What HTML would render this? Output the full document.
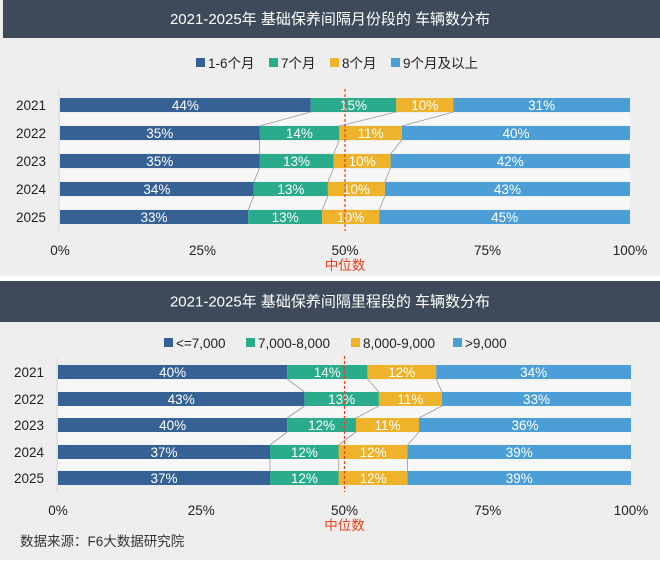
<!DOCTYPE html>
<html><head><meta charset="utf-8"><style>
body{margin:0;width:660px;height:560px;overflow:hidden;background:#fff;font-family:"Liberation Sans","Noto Sans CJK SC",sans-serif;}
</style></head><body>
<svg id="s" width="660" height="560" xmlns="http://www.w3.org/2000/svg" font-family="Liberation Sans, Noto Sans CJK SC, sans-serif"></svg>
<script>
const C=['#356195','#2aab8b','#eeb32b','#4b9fd6'];
let h='';
function panel(o){
  h+=`<rect x="0" y="${o.top}" width="660" height="${o.h}" fill="#eeeeee"/>`;
  h+=`<rect x="${o.hx}" y="${o.top}" width="${660-o.hx}" height="${o.hh}" fill="#3e4a59"/>`;
  h+=`<text x="330" y="${o.top+o.hh/2+5}" fill="#fff" font-size="15" text-anchor="middle">${o.title}</text>`;
  // legend
  let lx=o.lx;
  o.leg.forEach((t,i)=>{h+=`<rect x="${lx[i]}" y="${o.ly-5}" width="9" height="9" fill="${C[i]}"/><text x="${lx[i]+12}" y="${o.ly+5}" font-size="13.5" fill="#222">${t}</text>`;});
  const x0=o.x0,x1=o.x1,W=x1-x0,bh=14;
  // white bands between rows
  for(let r=0;r<o.rows.length-1;r++){const y=(o.ys[r]+o.ys[r+1])/2;h+=`<rect x="${x0}" y="${y-6}" width="${W}" height="12" fill="#f7f7f7"/>`;}
  h+=`<line x1="${x0-1}" y1="${o.ys[0]-14}" x2="${x0-1}" y2="${o.ys[4]+14}" stroke="#d8d8d8"/>`;
  const bounds=[];
  o.rows.forEach((d,r)=>{
    let acc=0;const y=o.ys[r];const b=[];
    h+=`<text x="${x0-14}" y="${y+5}" font-size="13.5" fill="#222" text-anchor="end">${o.years[r]}</text>`;
    d.forEach((v,i)=>{
      const xa=x0+acc/100*W;let w=v/100*W;
      if(i==3) w=x1-xa;
      h+=`<rect x="${xa}" y="${y-bh/2}" width="${w}" height="${bh}" fill="${C[i]}"/>`;
      h+=`<text x="${xa+w/2}" y="${y+5}" font-size="13.5" fill="#fff" text-anchor="middle">${v}%</text>`;
      acc+=v;b.push(x0+acc/100*W);
    });
    bounds.push(b);
  });
  for(let r=0;r<o.rows.length-1;r++)for(let i=0;i<3;i++){
    h+=`<line x1="${bounds[r][i]}" y1="${o.ys[r]+bh/2}" x2="${bounds[r+1][i]}" y2="${o.ys[r+1]-bh/2}" stroke="#999" stroke-width="0.8"/>`;
  }
  const xm=x0+W/2;
  h+=`<line x1="${xm}" y1="${o.ys[0]-16}" x2="${xm}" y2="${o.ys[4]+14}" stroke="#e8401c" stroke-width="1.2" stroke-dasharray="3,2"/>`;
  ['0%','25%','50%','75%','100%'].forEach((t,i)=>{h+=`<text x="${x0+W*i/4}" y="${o.ty}" font-size="13.5" fill="#222" text-anchor="middle">${t}</text>`;});
  h+=`<text x="${xm}" y="${o.ty+15}" font-size="13.5" fill="#e8401c" text-anchor="middle">中位数</text>`;
}
panel({top:0,h:276,hx:3,hh:38,title:'2021-2025年 基础保养间隔月份段的 车辆数分布',
 lx:[196,269,330,391],leg:['1-6个月','7个月','8个月','9个月及以上'],ly:63,
 x0:60,x1:630,ys:[105,133,161,189,217],years:[2021,2022,2023,2024,2025],ty:255,
 rows:[[44,15,10,31],[35,14,11,40],[35,13,10,42],[34,13,10,43],[33,13,10,45]]});
panel({top:281,h:279,hx:0,hh:41,title:'2021-2025年 基础保养间隔里程段的 车辆数分布',
 lx:[164,246,351,453],leg:['&lt;=7,000','7,000-8,000','8,000-9,000','&gt;9,000'],ly:343,
 x0:58,x1:631,ys:[372,399,425,452,478],years:[2021,2022,2023,2024,2025],ty:515,
 rows:[[40,14,12,34],[43,13,11,33],[40,12,11,36],[37,12,12,39],[37,12,12,39]]});
h+=`<text x="20" y="546" font-size="13.5" fill="#333">数据来源：F6大数据研究院</text>`;
document.getElementById('s').innerHTML=h;
</script>
</body></html>
